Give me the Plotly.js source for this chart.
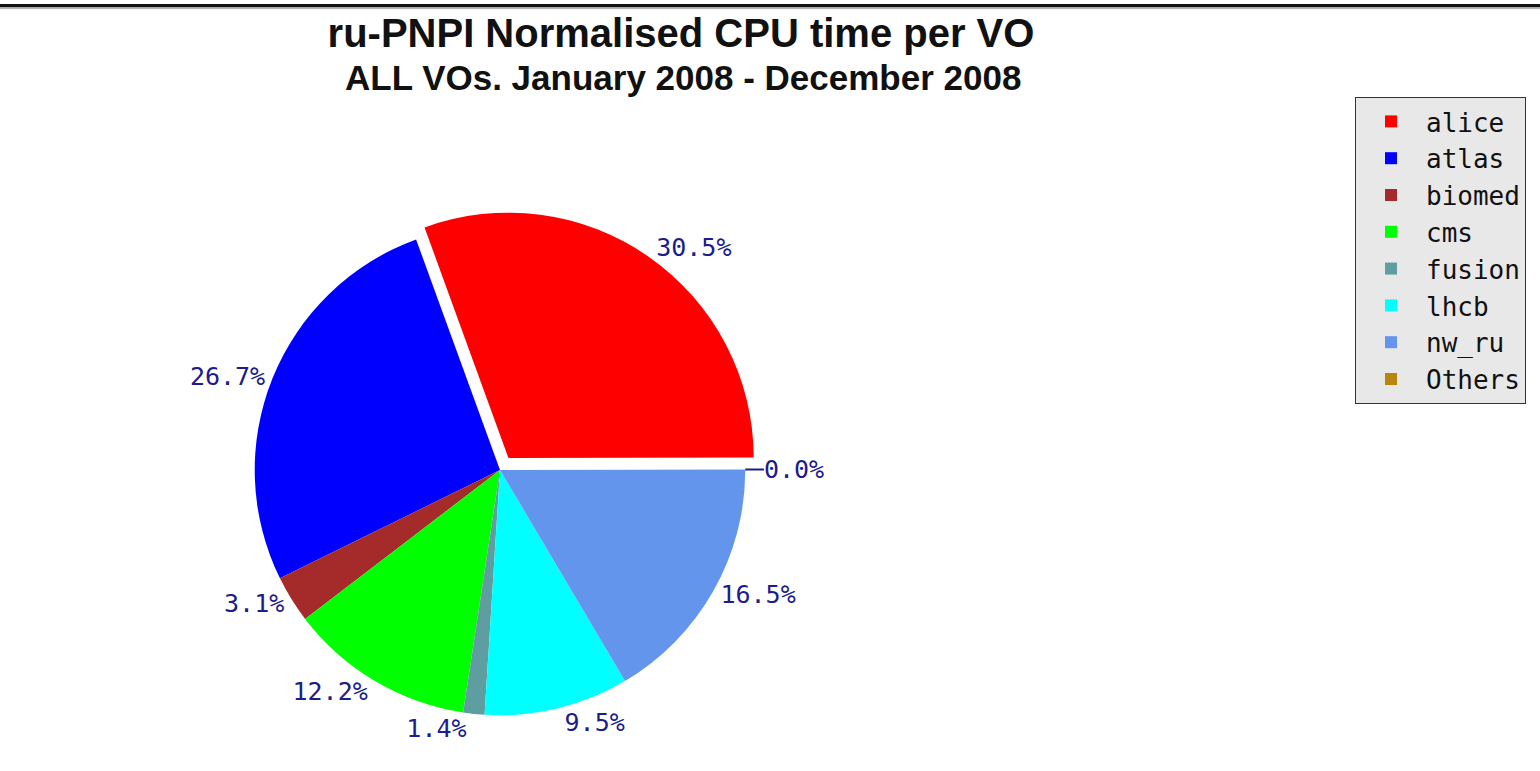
<!DOCTYPE html>
<html>
<head>
<meta charset="utf-8">
<script src="https://cdn.plot.ly/plotly-3.0.1.min.js"></script>
<style>
  html, body { margin: 0; padding: 0; background: #fff; }
  #topline { position: absolute; left: 0; top: 4px; width: 1540px; height: 3px; background: #111; box-shadow: 0 2px 1px #aaa; z-index: 5; }
  #chart { width: 1540px; height: 771px; }
</style>
</head>
<body>
<div id="topline"></div>
<div id="chart"></div>
<script>
const voNames = ["alice", "atlas", "biomed", "cms", "fusion", "lhcb", "nw_ru", "Others"];
const cpuShare = [30.5, 26.7, 3.1, 12.2, 1.4, 9.5, 16.5, 0.0];
const sliceColors = ["#ff0000", "#0000ff", "#a52a2a", "#00ff00", "#5f9ea0", "#00ffff", "#6495ed", "#b8860b"];
const pulls = [0.06, 0, 0, 0, 0, 0, 0, 0];
const mainTitle = "ru-PNPI Normalised CPU time per VO";
const subTitle = "ALL VOs. January 2008 - December 2008";

const trace = {
  type: "pie",
  labels: voNames,
  values: cpuShare,
  sort: false,
  direction: "counterclockwise",
  rotation: -20,
  pull: pulls,
  marker: { colors: sliceColors, line: { width: 0 } },
  textposition: "outside",
  texttemplate: "%{value:.1f}%",
  textfont: { family: "DejaVu Sans Mono, monospace", size: 25, color: "#1c1c8c" },
  hoverinfo: "label+value",
  domain: { x: [240/1540, 760/1540], y: [41/771, 561/771] },
  automargin: false
};

const layout = {
  width: 1540,
  height: 771,
  margin: { l: 0, r: 0, t: 0, b: 0 },
  paper_bgcolor: "#ffffff",
  title: {
    text: mainTitle,
    font: { family: "Liberation Sans, Arial, sans-serif", size: 40, weight: "bold", color: "#111" },
    x: 681/1540, xanchor: "center", xref: "paper",
    y: 1 - 33/771, yanchor: "middle", yref: "container"
  },
  annotations: [{
    text: subTitle,
    font: { family: "Liberation Sans, Arial, sans-serif", size: 35, weight: "bold", color: "#111" },
    x: 683/1540, xref: "paper", xanchor: "center",
    y: 1 - 78/771, yref: "paper", yanchor: "middle",
    showarrow: false
  }],
  showlegend: true,
  legend: {
    x: 1355/1540, xanchor: "left",
    y: 1 - 97/771, yanchor: "top",
    bgcolor: "#e8e8e8",
    bordercolor: "#333333",
    borderwidth: 1,
    itemwidth: 60,
    font: { family: "DejaVu Sans Mono, monospace", size: 26, color: "#111" },
    traceorder: "normal"
  }
};

Plotly.newPlot("chart", [trace], layout, { displayModeBar: false, staticPlot: true });
</script>
</body>
</html>
